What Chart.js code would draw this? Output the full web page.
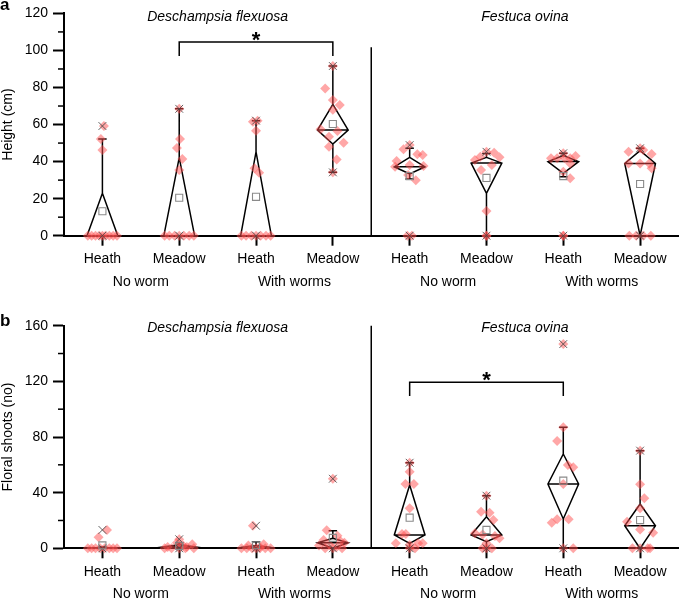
<!DOCTYPE html>
<html><head><meta charset="utf-8">
<script src="https://cdn.jsdelivr.net/npm/chart.js@4.4.1/dist/chart.umd.min.js"></script>
<style>
html,body{margin:0;padding:0;background:#fff;}
#wrap{position:relative;width:685px;height:599px;overflow:hidden;}
canvas{position:absolute;left:0;}
</style></head><body>
<div id="wrap">
<canvas id="ca" width="685" height="300" style="top:0"></canvas>
<canvas id="cb" width="685" height="299" style="top:300px"></canvas>
</div>
<script>
// ---------- categories & labels ----------
const categoryLabels = ['Heath','Meadow','Heath','Meadow','Heath','Meadow','Heath','Meadow'];
const wormLabels = ['No worm','With worms','No worm','With worms'];
const speciesLabels = ['Deschampsia flexuosa','Festuca ovina'];
const heightTicks = [0,20,40,60,80,100,120];
const floralTicks = [0,40,80,120,160];

// ---------- panel a: Height (cm) ----------
const heightLow    = [0,0,0,34.2,30.6,0,31.8,0];
const heightQ1     = [0,0,0,49.5,33.3,22.9,33.7,0];
const heightMedian = [0,0,0,57.0,37.2,39.2,40.0,39.0];
const heightQ3     = [22.9,42.1,45.3,70.9,42.3,42.3,43.3,45.9];
const heightHigh   = [52.2,68.5,62.1,91.6,47.2,44.4,44.5,47.2];
const heightMean   = [13.2,20.5,21.0,60.3,32.2,31.2,32.2,27.9];
const heightMin    = [0,0,0,34.2,0,0,0,0];
const heightMax    = [59.2,68.5,62.1,91.6,48.9,45.3,44.5,47.2];
const heightValues = [
  [59.2,52.2,46.2,0,0,0,0,0,0,0,0,0],
  [68.5,52.2,47.3,41.4,35.4,0,0,0,0,0,0,0],
  [62.1,61.5,56.7,36.4,34.0,0,0,0,0,0,0,0],
  [91.6,79.5,73.2,70.5,68,57.4,56.5,53.4,50.2,48,41.2,34.2],
  [48.9,46.6,44,43.5,40.3,38.1,37.2,37.6,32.8,30,0,0],
  [45.3,44.8,42.6,42.3,40.8,38.1,35.4,13.3,0,0],
  [44.5,43,41.8,41.8,41.8,41.8,39,34.5,31,0,0],
  [47.2,46.2,45.3,44.1,39,39,39,36.4,0,0,0,0]
];
const heightJitter = [
  [0.02,-0.02,0,-0.19,-0.14,-0.09,-0.04,0,0.04,0.09,0.14,0.19],
  [0,0.01,-0.03,0.04,0,-0.19,-0.13,-0.06,0,0.06,0.13,0.19],
  [0.02,-0.04,0,-0.02,0.04,-0.19,-0.13,-0.06,0,0.06,0.13,0.19],
  [0,-0.1,0,0.09,0,-0.16,0.06,-0.05,0.14,-0.05,0.05,0],
  [0,-0.08,0.1,0.17,-0.17,0,-0.19,0.18,-0.02,0.08,-0.03,0.03],
  [0,0.1,-0.08,0.17,-0.15,0.07,-0.07,0,0,0],
  [0,0.16,-0.16,-0.08,0.02,0.09,0.09,0,0.09,0,0],
  [0,0.04,-0.15,0.15,-0.15,0,0.12,0.15,-0.14,-0.05,0.04,0.14]
];
const heightBracket = [2,4,97,104.5];

// ---------- panel b: Floral shoots (no) ----------
const floralLow    = [0,0,0,0,0,0,0,0];
const floralQ1     = [0,0,0,0,3.6,4.8,21.1,0];
const floralMedian = [0,1,0.5,4,9.6,9.6,46.2,16.2];
const floralQ3     = [0.5,2.5,2,7.2,45.5,22.7,67.8,31.8];
const floralHigh   = [1,4,4.7,12.7,61.5,37.8,87,70.2];
const floralMean   = [2.1,1.8,2.2,7.5,22,13.2,48.6,20.3];
const floralMin    = [0,0,0,0,0,0,0,0];
const floralMax    = [13.2,6.5,16.2,50,61.5,37.8,146.8,70.2];
const floralValues = [
  [13.2,7.9,0,0,0,0,0,0,0,0],
  [6.5,4,3,2,1,1,0,0,0,0,0],
  [16.2,3,2,1,0,0,0,0,0,0,0],
  [50,13,9,6,5,4,3,2,1,0,0,0],
  [61.5,55.1,46.2,46.2,28.7,10.3,10.3,3.6,3.6,3.6,2.4,0,0],
  [37.8,26.3,25.6,20.3,10.8,10,8.8,7.2,3.6,0,0,0],
  [146.8,87,77.1,59.9,58.2,46.2,20.8,18.4,20.8,0,0],
  [70.2,46,35.9,28.7,19.1,13.6,11.2,0,0,0,0]
];
const floralJitter = [
  [0.06,-0.05,-0.19,-0.14,-0.09,-0.03,0.03,0.09,0.14,0.19],
  [0,-0.03,0.17,0.05,-0.15,0.1,-0.19,-0.1,0,0.08,0.19],
  [-0.04,0.1,-0.1,0.05,-0.19,-0.12,-0.05,0,0.05,0.12,0.19],
  [0,-0.08,0.06,-0.12,0.1,0.15,-0.05,-0.18,0.05,-0.1,0,0.12],
  [0,0,-0.055,0.055,0,-0.1,-0.05,-0.18,0.11,0.17,0,0,0.07],
  [0,-0.07,0.04,0.09,-0.15,-0.05,0.11,0.17,0,-0.05,0,0.07],
  [0,0,-0.08,0.06,0.13,0,-0.08,-0.15,0.07,0,0.13],
  [0,0,0.055,0,-0.17,0,0.17,-0.1,0,0.1,0.13]
];
const floralBracket = [5,7,109.5,119.3];

// ---------- drawing ----------
const FONT = '"Liberation Sans", Arial, Helvetica, sans-serif';
Chart.defaults.font.family = FONT;
Chart.defaults.font.size = 14;
Chart.defaults.color = '#000';

const HALF_W = 0.2, CAP = 0.055;
const xPos = categoryLabels.map((_, i) => i + 1);

function buildDatasets(s) {
  const seg = [];
  const br = (x) => seg.push({x: x, y: null});
  xPos.forEach((x, i) => {
    seg.push({x, y: s.q3[i]}, {x: x + HALF_W, y: s.med[i]}, {x, y: s.q1[i]}, {x: x - HALF_W, y: s.med[i]}, {x, y: s.q3[i]}); br(x);
    seg.push({x: x - HALF_W, y: s.med[i]}, {x: x + HALF_W, y: s.med[i]}); br(x);
    seg.push({x, y: s.q3[i]}, {x, y: s.high[i]}); br(x);
    seg.push({x: x - CAP, y: s.high[i]}, {x: x + CAP, y: s.high[i]}); br(x);
    seg.push({x, y: s.q1[i]}, {x, y: s.low[i]}); br(x);
    seg.push({x: x - CAP, y: s.low[i]}, {x: x + CAP, y: s.low[i]}); br(x);
  });
  const b = s.bracket;
  seg.push({x: b[0], y: b[2]}, {x: b[0], y: b[3]}, {x: b[1], y: b[3]}, {x: b[1], y: b[2]}); br(b[1]);
  seg.push({x: 4.5, y: 0}, {x: 4.5, y: s.dividerTop});

  const pts = [];
  xPos.forEach((x, i) => s.vals[i].forEach((v, j) => pts.push({x: x + s.jit[i][j], y: v})));
  const ext = [];
  xPos.forEach((x, i) => { ext.push({x, y: s.min[i]}); ext.push({x, y: s.max[i]}); });
  const means = xPos.map((x, i) => ({x, y: s.mean[i]}));

  return [
    {data: means, pointStyle: 'rect', pointRadius: 5, pointBorderColor: '#8a8a8a', pointBackgroundColor: 'rgba(255,255,255,0)', pointBorderWidth: 1.1, showLine: false, order: 0, clip: false},
    {data: ext, pointStyle: 'crossRot', pointRadius: 5.5, pointBorderColor: 'rgba(70,70,70,0.85)', pointBorderWidth: 1, showLine: false, order: 1, clip: false},
    {data: pts, pointStyle: 'rectRot', pointRadius: 5, pointBackgroundColor: 'rgba(255,80,80,0.5)', pointBorderWidth: 0, showLine: false, order: 2, clip: false},
    {data: seg, showLine: true, pointRadius: 0, borderColor: '#000', borderWidth: 1.5, spanGaps: false, tension: 0, order: 3, clip: false}
  ];
}

const annot = {
  id: 'annot',
  afterDraw(chart) {
    const o = chart.options.plugins.annot;
    const ctx = chart.ctx, xs = chart.scales.x, ys = chart.scales.y, ca = chart.chartArea;
    ctx.save();
    ctx.strokeStyle = '#000'; ctx.lineWidth = 1.5;
    o.minor.forEach(v => {
      const y = ys.getPixelForValue(v);
      ctx.beginPath(); ctx.moveTo(ca.left - 6, y); ctx.lineTo(ca.left, y); ctx.stroke();
    });
    ctx.fillStyle = '#000';
    ctx.textAlign = 'left'; ctx.textBaseline = 'alphabetic';
    ctx.font = 'bold 17px ' + FONT;
    ctx.fillText(o.letter, 0, o.letterY);
    ctx.textAlign = 'center';
    ctx.font = 'italic 14px ' + FONT;
    speciesLabels.forEach((t, i) => ctx.fillText(t, xs.getPixelForValue((xPos[i * 4 + 1] + xPos[i * 4 + 2]) / 2), o.titleY));
    ctx.font = '14px ' + FONT;
    wormLabels.forEach((t, i) => ctx.fillText(t, xs.getPixelForValue((xPos[i * 2] + xPos[i * 2 + 1]) / 2), ca.bottom + 50));
    ctx.font = 'bold 22px ' + FONT;
    const b = o.bracket;
    ctx.fillText('*', xs.getPixelForValue((b[0] + b[1]) / 2), ys.getPixelForValue(b[3]) + 4.4);
    ctx.restore();
  }
};

function makeChart(id, s) {
  return new Chart(document.getElementById(id), {
    type: 'scatter',
    data: {datasets: buildDatasets(s)},
    plugins: [annot],
    options: {
      responsive: false, animation: false, devicePixelRatio: 1,
      layout: {padding: {top: s.topPad, right: 1, left: 0, bottom: 0}},
      plugins: {legend: {display: false}, tooltip: {enabled: false},
        annot: {minor: s.minor, letter: s.letter, letterY: s.letterY, titleY: s.titleY, bracket: s.bracket}},
      scales: {
        x: {type: 'linear', min: 0.5, max: 8.5,
          afterBuildTicks: sc => { sc.ticks = xPos.map(v => ({value: v})); },
          afterFit: sc => { sc.height = s.xAxisH; },
          ticks: {callback: (v, i) => categoryLabels[i], autoSkip: false, maxRotation: 0, padding: 5, color: '#000', font: {size: 14}},
          grid: {drawOnChartArea: false, tickLength: 10, tickWidth: 2, tickColor: '#000'},
          border: {color: '#000', width: 2}},
        y: {min: 0, max: s.yMax,
          afterBuildTicks: sc => { sc.ticks = s.yTicks.map(v => ({value: v})); },
          afterFit: sc => { sc.width = 64; },
          ticks: {padding: 5, color: '#000', font: {size: 14}},
          grid: {drawOnChartArea: false, tickLength: 11, tickWidth: 2, tickColor: '#000'},
          border: {color: '#000', width: 2},
          title: {display: true, text: s.yTitle, color: '#000', font: {size: 14}, padding: {top: 0, bottom: 0}}}
      }
    }
  });
}

makeChart('ca', {
  low: heightLow, q1: heightQ1, med: heightMedian, q3: heightQ3, high: heightHigh,
  mean: heightMean, min: heightMin, max: heightMax, vals: heightValues, jit: heightJitter,
  bracket: heightBracket, dividerTop: 101.7, yMax: 120, yTicks: heightTicks,
  minor: heightTicks.slice(0, -1).map(v => v + 10),
  yTitle: 'Height (cm)', letter: 'a', letterY: 10, titleY: 21, topPad: 13.3, xAxisH: 64.3
});
makeChart('cb', {
  low: floralLow, q1: floralQ1, med: floralMedian, q3: floralQ3, high: floralHigh,
  mean: floralMean, min: floralMin, max: floralMax, vals: floralValues, jit: floralJitter,
  bracket: floralBracket, dividerTop: 160, yMax: 160, yTicks: floralTicks,
  minor: floralTicks.slice(0, -1).map(v => v + 20),
  yTitle: 'Floral shoots (no)', letter: 'b', letterY: 26, titleY: 31.7, topPad: 25.7, xAxisH: 50.7
});
</script>
</body></html>
